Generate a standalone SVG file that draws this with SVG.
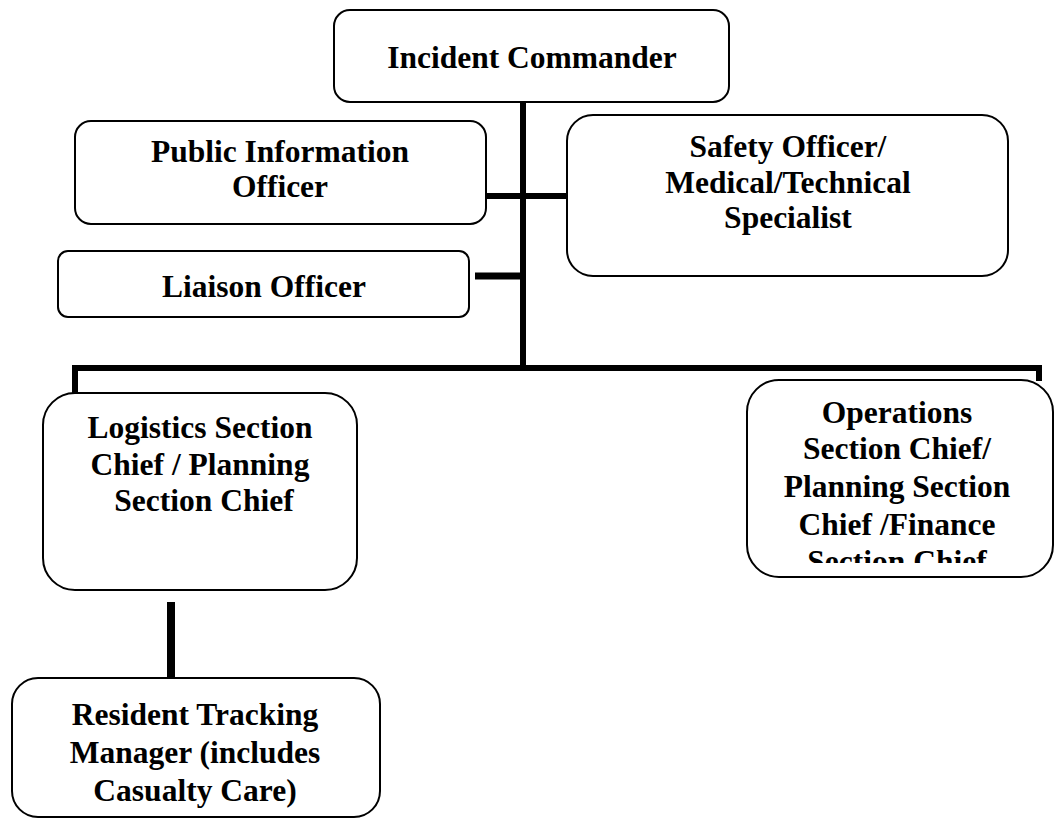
<svg xmlns="http://www.w3.org/2000/svg" width="1054" height="819" viewBox="0 0 1054 819">
<style>
.box{fill:#fff;stroke:#000;stroke-width:2}
.t{font-family:"Liberation Serif","Times New Roman",serif;font-weight:bold;font-size:31.5px;text-anchor:middle;fill:#000}
.c{stroke:#000;fill:none}
</style>
<defs>
<clipPath id="opsClip"><rect x="747" y="380" width="307" height="183"/></clipPath>
</defs>
<rect width="1054" height="819" fill="#fff"/>
<g id="connectors">
<line class="c" x1="523" y1="102" x2="523" y2="371" stroke-width="6"/>
<line class="c" x1="481" y1="196" x2="568" y2="196" stroke-width="6"/>
<line class="c" x1="475" y1="276" x2="520" y2="276" stroke-width="7"/>
<polyline class="c" points="75,393 75,368 1039,368 1039,381" stroke-width="6"/>
<line class="c" x1="171" y1="602" x2="171" y2="678" stroke-width="8"/>
</g>
<g id="incident-commander">
<rect class="box" x="334" y="10" width="395" height="92" rx="16"/>
<text class="t" x="532" y="68">Incident Commander</text>
</g>
<g id="public-information-officer">
<rect class="box" x="75" y="121" width="411" height="103" rx="16"/>
<text class="t" x="280" y="162">Public Information</text>
<text class="t" x="280" y="197">Officer</text>
</g>
<g id="safety-officer">
<rect class="box" x="567" y="115" width="441" height="161" rx="26"/>
<text class="t" x="788" y="157">Safety Officer/</text>
<text class="t" x="788" y="193">Medical/Technical</text>
<text class="t" x="788" y="228">Specialist</text>
</g>
<g id="liaison-officer">
<rect class="box" x="58" y="251" width="411" height="66" rx="10"/>
<text class="t" x="264" y="297">Liaison Officer</text>
</g>
<g id="logistics-section-chief">
<rect class="box" x="43" y="393" width="314" height="197" rx="32"/>
<text class="t" x="200" y="438">Logistics Section</text>
<text class="t" x="200" y="474.5">Chief / Planning</text>
<text class="t" x="204" y="511">Section Chief</text>
</g>
<g id="operations-section-chief">
<rect class="box" x="747" y="380" width="306" height="197" rx="32"/>
<g clip-path="url(#opsClip)">
<text class="t" x="897" y="423">Operations</text>
<text class="t" x="897" y="459">Section Chief/</text>
<text class="t" x="897" y="497">Planning Section</text>
<text class="t" x="897" y="535">Chief /Finance</text>
<text class="t" x="897" y="572">Section Chief</text>
</g>
</g>
<g id="resident-tracking-manager">
<rect class="box" x="12" y="678" width="368" height="139" rx="26"/>
<text class="t" x="195" y="725">Resident Tracking</text>
<text class="t" x="195" y="763">Manager (includes</text>
<text class="t" x="195" y="801">Casualty Care)</text>
</g>
</svg>
